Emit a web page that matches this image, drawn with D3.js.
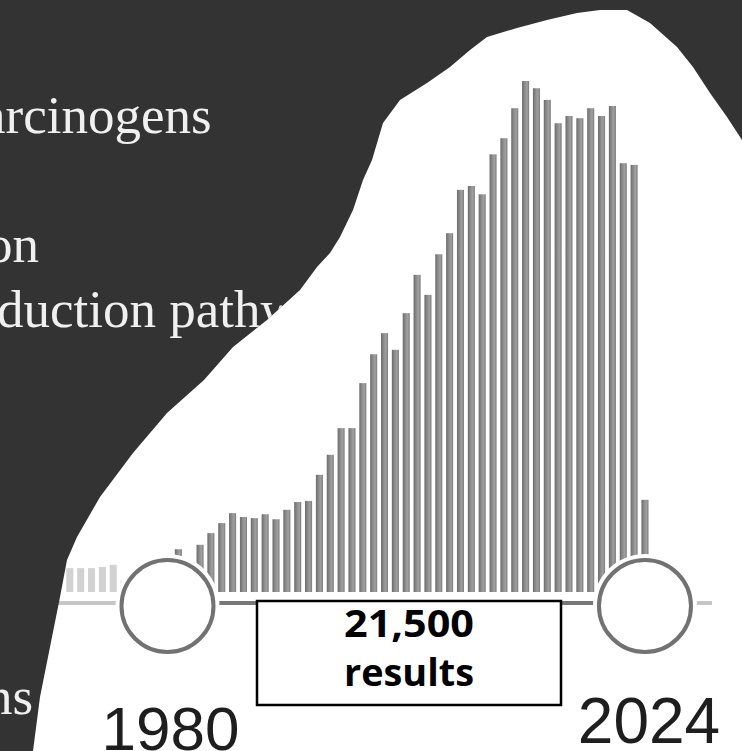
<!DOCTYPE html>
<html>
<head>
<meta charset="utf-8">
<script src="https://cdn.jsdelivr.net/npm/d3@7"></script>
<style>
  html, body { margin: 0; padding: 0; background: #ffffff; }
  svg { display: block; }
</style>
</head>
<body>
<svg id="chart" width="742" height="751"></svg>
<script>
// Publications per year (timeline histogram)
const rangeYears = d3.range(1980, 2025);
const rangeCounts = [
  63, 77, 54, 85, 106, 124, 142, 135, 133, 140,
  131, 148, 162, 164, 211, 247, 295, 295, 376, 428,
  466, 436, 502, 571, 535, 608, 646, 724, 731, 716,
  788, 817, 871, 920, 907, 886, 844, 857, 853, 871,
  857, 875, 772, 769, 166
];
// Years before the selected range (drawn faded)
const priorYears = [1971, 1972, 1973, 1974, 1975, 1976, 1977, 1978, 1979];
const priorCounts = [43, 43, 43, 45, 49, 20, 30, 45, 55];

const rangeStart = "1980";
const rangeEnd = "2024";
const resultLines = ["21,500", "results"];

// Slide text fragments beside the chart
const slideLines = [
  { text: "arcinogens", line: 0, dx: -18 },
  { text: "on", line: 2, dx: -14 },
  { text: "duction pathw", line: 3, dx: -3 },
  { text: "ns", line: 9, dx: -14 }
];

const svg = d3.select("#chart");
const W = 742, H = 751;

// ---- defs: bar shading and softening blur
const defs = svg.append("defs");
const grad = defs.append("linearGradient").attr("id", "barGrad")
  .attr("x1", "0%").attr("x2", "100%").attr("y1", "0%").attr("y2", "0%");
[["0%", "#6a6a6a"], ["35%", "#8a8a8a"], ["70%", "#a0a0a0"], ["100%", "#7a7a7a"]]
  .forEach(([o, c]) => grad.append("stop").attr("offset", o).attr("stop-color", c));
defs.append("filter").attr("id", "soft")
  .attr("x", "-10%").attr("y", "-10%").attr("width", "120%").attr("height", "120%")
  .append("feGaussianBlur").attr("stdDeviation", 0.7);

svg.append("rect").attr("width", W).attr("height", H).attr("fill", "#ffffff");

// ---- scales
const allYears = priorYears.concat(rangeYears);
const x = d3.scaleBand()
  .domain(allYears)
  .range([64.4, 650.4])
  .paddingInner(0.35)
  .paddingOuter(0.175);
const y = d3.scaleLinear()
  .domain([0, d3.max(rangeCounts)])
  .range([592, 81]);

const chart = svg.append("g").attr("filter", "url(#soft)");

// faded bars before the range
chart.append("g").selectAll("rect")
  .data(priorYears.map((yr, i) => ({ yr, v: priorCounts[i] })))
  .join("rect")
  .attr("x", d => x(d.yr))
  .attr("width", x.bandwidth())
  .attr("y", d => y(d.v))
  .attr("height", d => y(0) - y(d.v))
  .attr("fill", "#d2d2d2");

// bars in the selected range
chart.append("g").selectAll("rect")
  .data(rangeYears.map((yr, i) => ({ yr, v: rangeCounts[i] })))
  .join("rect")
  .attr("x", d => x(d.yr))
  .attr("width", x.bandwidth())
  .attr("y", d => y(d.v))
  .attr("height", d => y(0) - y(d.v))
  .attr("fill", "url(#barGrad)");

// ---- slider track
const trackY = 603;
const cx = yr => x(yr) + x.bandwidth() / 2;
chart.append("line")
  .attr("x1", 0).attr("x2", cx(1980))
  .attr("y1", trackY).attr("y2", trackY)
  .attr("stroke", "#c6c6c6").attr("stroke-width", 4);
chart.append("line")
  .attr("x1", cx(1980)).attr("x2", cx(2024))
  .attr("y1", trackY).attr("y2", trackY)
  .attr("stroke", "#777777").attr("stroke-width", 4);
chart.append("line")
  .attr("x1", cx(2024)).attr("x2", 712)
  .attr("y1", trackY).attr("y2", trackY)
  .attr("stroke", "#c6c6c6").attr("stroke-width", 4);

// ---- slider handles
[1980, 2024].forEach(yr => {
  chart.append("circle")
    .attr("cx", cx(yr)).attr("cy", 606).attr("r", 52)
    .attr("fill", "#ffffff");
  chart.append("circle")
    .attr("cx", cx(yr)).attr("cy", 606).attr("r", 46)
    .attr("fill", "#ffffff")
    .attr("stroke", "#727272").attr("stroke-width", 4);
});

// ---- dark slide background around the chart
const edge = [
  [742, 140], [727, 117], [710, 93], [693, 67], [677, 47], [650, 23], [627, 10],
  [600, 10], [577, 13], [547, 20], [517, 28], [487, 37], [470, 50], [450, 67],
  [427, 83], [400, 100], [383, 123], [372, 160], [363, 180], [353, 210],
  [340, 237], [330, 253], [317, 267], [300, 290], [267, 320], [233, 347],
  [204, 380], [167, 413], [133, 453], [100, 497], [77, 537], [67, 560],
  [60, 597], [50, 647], [40, 697], [33, 751]
];
const darkShape = [[0, 751], [0, 0], [742, 0]].concat(edge);
const darkPath = d3.line()(darkShape) + "Z";
svg.append("path")
  .attr("d", darkPath)
  .attr("fill", "#333333");

// text on the slide stays inside the dark area
defs.append("clipPath").attr("id", "darkClip")
  .append("path").attr("d", darkPath);

// ---- slide text on the dark background
svg.append("g")
  .attr("clip-path", "url(#darkClip)")
  .selectAll("text")
  .data(slideLines)
  .join("text")
  .attr("x", d => d.dx)
  .attr("y", d => 133 + d.line * 64.5)
  .attr("font-family", "'Liberation Serif', 'Times New Roman', serif")
  .attr("font-size", 53)
  .attr("fill", "#f0f0f0")
  .text(d => d.text);

// ---- range labels
svg.append("text")
  .attr("x", cx(1980) + 3).attr("y", 750)
  .attr("text-anchor", "middle")
  .attr("font-family", "'Liberation Sans', Arial, sans-serif")
  .attr("font-size", 62)
  .attr("fill", "#1e1e1e")
  .text(rangeStart);
svg.append("text")
  .attr("x", cx(2024) + 4).attr("y", 743)
  .attr("text-anchor", "middle")
  .attr("font-family", "'Liberation Sans', Arial, sans-serif")
  .attr("font-size", 64)
  .attr("fill", "#1e1e1e")
  .text(rangeEnd);

// ---- result count box
svg.append("rect")
  .attr("x", 257).attr("y", 601).attr("width", 304).attr("height", 104)
  .attr("fill", "#ffffff").attr("stroke", "#000000").attr("stroke-width", 2.5);
svg.append("g").selectAll("text")
  .data(resultLines)
  .join("text")
  .attr("x", 409)
  .attr("y", (d, i) => 637 + i * 49)
  .attr("text-anchor", "middle")
  .attr("font-family", "'Open Sans', sans-serif")
  .attr("font-weight", 700)
  .attr("font-size", 38)
  .attr("textLength", 130)
  .attr("lengthAdjust", "spacingAndGlyphs")
  .attr("fill", "#000000")
  .text(d => d);
</script>
</body>
</html>
